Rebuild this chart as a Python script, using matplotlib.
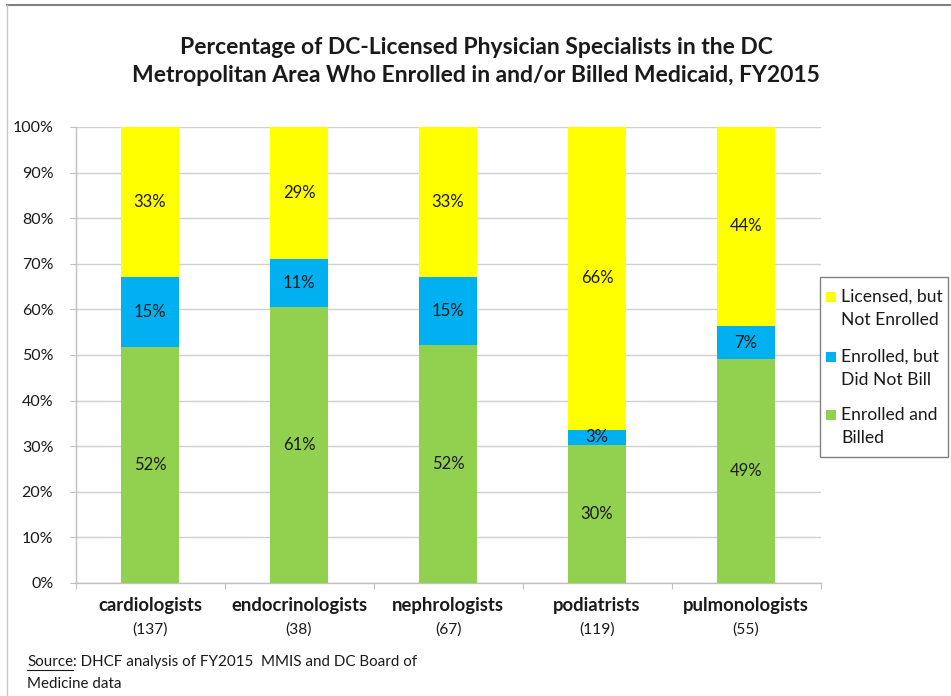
import matplotlib
matplotlib.use("Agg")
import matplotlib.pyplot as plt
from matplotlib.patches import Rectangle
from matplotlib.lines import Line2D
import numpy as np

plt.rcParams['font.family'] = ['Lato', 'DejaVu Sans']

categories = ["cardiologists", "endocrinologists", "nephrologists", "podiatrists", "pulmonologists"]
counts = ["(137)", "(38)", "(67)", "(119)", "(55)"]
enrolled_billed = [51.8, 60.55, 52.2, 30.3, 49.1]
enrolled_not_billed = [15.3, 10.53, 14.9, 3.36, 7.27]
licensed_not_enrolled = [32.9, 28.92, 32.9, 66.34, 43.63]
series_names = ["Enrolled and\nBilled", "Enrolled, but\nDid Not Bill", "Licensed, but\nNot Enrolled"]
colors = ["#92D050", "#00B0F0", "#FFFF00"]
yticks = [0, 10, 20, 30, 40, 50, 60, 70, 80, 90, 100]

TXT = "#1a1a1a"
W, H = 951, 696
fig = plt.figure(figsize=(W / 100, H / 100), dpi=100)
ax = fig.add_axes([75.5 / W, 113 / H, 745 / W, 456 / H])

x = np.arange(len(categories))
bottom = np.zeros(len(categories))
series = [enrolled_billed, enrolled_not_billed, licensed_not_enrolled]
for vals, col, name in zip(series, colors, series_names):
    vals = np.array(vals)
    ax.bar(x, vals, bottom=bottom, width=0.39, color=col, label=name, zorder=3)
    for xi, b, v in zip(x, bottom, vals):
        ax.text(xi, b + v / 2, f"{v:.0f}%", ha="center", va="center",
                fontsize=12, color=TXT, zorder=4)
    bottom = bottom + vals

ax.set_xlim(-0.5, len(categories) - 0.5)
ax.set_ylim(0, 100)
ax.set_yticks(yticks)
ax.set_yticklabels([f"{t}%" for t in yticks], fontsize=11.5, color=TXT)
ax.yaxis.grid(True, color="#D0D0D0", linewidth=1, zorder=0)
ax.tick_params(axis="y", length=4, color="#BFBFBF", pad=12)
ax.set_xticks(np.arange(len(categories) + 1) - 0.5)
ax.set_xticklabels([])
ax.tick_params(axis="x", length=4, color="#BFBFBF")
for s in ["top", "right"]:
    ax.spines[s].set_visible(False)
for s in ["left", "bottom"]:
    ax.spines[s].set_color("#BFBFBF")
    ax.spines[s].set_linewidth(1)

for xi, name, n in zip(x, categories, counts):
    ax.annotate(name, xy=(xi, 0), xycoords=("data", "axes fraction"),
                xytext=(0, -22), textcoords="offset pixels", ha="center", va="center",
                fontsize=13.3, fontweight="bold", color=TXT)
    ax.annotate(n, xy=(xi, 0), xycoords=("data", "axes fraction"),
                xytext=(0, -47), textcoords="offset pixels", ha="center", va="center",
                fontsize=11.2, color=TXT)

fig.text(476 / W, 1 - 61.5 / H,
         "Percentage of DC-Licensed Physician Specialists in the DC\nMetropolitan Area Who Enrolled in and/or Billed Medicaid, FY2015",
         ha="center", va="center", fontsize=16.5, fontweight="bold", color=TXT,
         linespacing=1.38)

# legend (manual, to keep handles aligned with the first text line)
fig.add_artist(Rectangle((820 / W, 1 - 457 / H), 128 / W, 180 / H, transform=fig.transFigure,
                         facecolor="white", edgecolor="#808080", linewidth=1, zorder=5))
leg_first_line_y = [297, 357, 415]
for (name, col), yy in zip(list(zip(series_names, colors))[::-1], leg_first_line_y):
    fig.add_artist(Rectangle((826 / W, 1 - (yy + 5) / H), 10 / W, 10 / H, transform=fig.transFigure,
                             facecolor=col, edgecolor="none", zorder=6))
    fig.text(841 / W, 1 - (yy - 8) / H, name, ha="left", va="top", fontsize=12.6,
             color=TXT, linespacing=1.55, zorder=6)

src1 = fig.text(27 / W, 1 - 662 / H, "Source", ha="left", va="center", fontsize=10.9, color=TXT)
fig.canvas.draw()
r = fig.canvas.get_renderer()
bb = src1.get_window_extent(renderer=r)
fig.text(bb.x1 / W, 1 - 662 / H, ": DHCF analysis of FY2015  MMIS and DC Board of",
         ha="left", va="center", fontsize=10.9, color=TXT)
fig.add_artist(Line2D([bb.x0 / W, bb.x1 / W], [(bb.y0 - 1) / H, (bb.y0 - 1) / H],
                      color=TXT, linewidth=0.8, transform=fig.transFigure))
fig.text(27 / W, 1 - 684 / H, "Medicine data", ha="left", va="center", fontsize=10.9, color=TXT)

# outer frame lines
fig.add_artist(Line2D([7 / W, 1], [1 - 5 / H, 1 - 5 / H], color="#808080", linewidth=1.5,
                      transform=fig.transFigure))
fig.add_artist(Line2D([7 / W, 7 / W], [0, 1 - 5 / H], color="#C8C8C8", linewidth=1,
                      transform=fig.transFigure))

fig.savefig("out.png", dpi=100)
